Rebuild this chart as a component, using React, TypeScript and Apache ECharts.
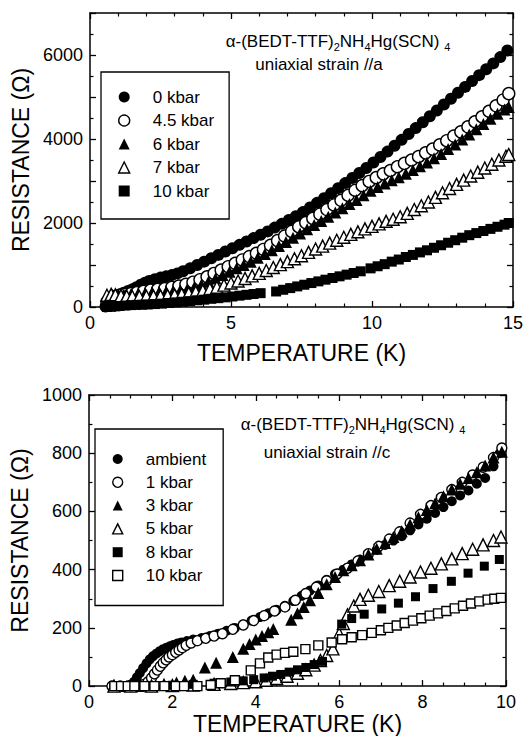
import React, { useEffect, useRef } from "react";
import * as echarts from "echarts";

// ---------- Top panel: uniaxial strain //a ----------
const topLegendNames = ["0 kbar", "4.5 kbar", "6 kbar", "7 kbar", "10 kbar"];

const topR0: [number, number][] = [
  [0.55, 10], [0.62, 40], [0.7, 90], [0.78, 150], [0.86, 210], [0.95, 260], [1.05, 300], [1.2, 340],
  [1.35, 380], [1.5, 420], [1.65, 470], [1.8, 530], [1.95, 580], [2.1, 620], [2.3, 660], [2.5, 700],
  [2.7, 730], [2.9, 760], [3.1, 800], [3.3, 850], [3.55, 920], [3.8, 1000], [4.05, 1080], [4.3, 1160],
  [4.55, 1240], [4.8, 1320], [5.05, 1400], [5.3, 1480], [5.55, 1560], [5.8, 1640], [6.05, 1720],
  [6.3, 1800], [6.55, 1890], [6.8, 1980], [7.05, 2070], [7.3, 2160], [7.55, 2260], [7.8, 2370],
  [8.05, 2480], [8.3, 2590], [8.55, 2710], [8.8, 2830], [9.05, 2950], [9.3, 3070], [9.55, 3190],
  [9.8, 3310], [10.05, 3440], [10.3, 3570], [10.55, 3700], [10.8, 3840], [11.05, 3980], [11.3, 4120],
  [11.55, 4260], [11.8, 4400], [12.05, 4540], [12.3, 4680], [12.55, 4820], [12.8, 4960], [13.05, 5100],
  [13.3, 5240], [13.55, 5380], [13.8, 5520], [14.05, 5660], [14.3, 5800], [14.55, 5950], [14.8, 6110],
];

const topR45: [number, number][] = [
  [0.6, 120], [0.75, 200], [0.9, 250], [1.05, 280], [1.25, 300], [1.45, 320], [1.65, 340], [1.9, 370],
  [2.15, 400], [2.4, 420], [2.65, 440], [2.9, 470], [3.15, 500], [3.4, 540], [3.65, 590], [3.9, 650],
  [4.15, 720], [4.4, 800], [4.65, 880], [4.9, 960], [5.15, 1040], [5.4, 1120], [5.65, 1200], [5.9, 1280],
  [6.15, 1370], [6.4, 1470], [6.65, 1580], [6.9, 1690], [7.15, 1800], [7.4, 1910], [7.65, 2010],
  [7.9, 2110], [8.15, 2210], [8.4, 2320], [8.65, 2430], [8.9, 2540], [9.15, 2660], [9.4, 2780],
  [9.65, 2890], [9.9, 2990], [10.15, 3080], [10.4, 3170], [10.65, 3250], [10.9, 3340], [11.15, 3420],
  [11.4, 3500], [11.65, 3580], [11.9, 3670], [12.15, 3760], [12.4, 3860], [12.65, 3960], [12.9, 4070],
  [13.15, 4170], [13.4, 4290], [13.65, 4410], [13.9, 4530], [14.15, 4660], [14.4, 4790], [14.65, 4930],
  [14.85, 5080],
];

const topR6: [number, number][] = [
  [0.6, 250], [0.8, 290], [1.0, 300], [1.2, 300], [1.45, 300], [1.7, 310], [1.95, 330], [2.2, 350],
  [2.45, 360], [2.7, 370], [2.95, 380], [3.2, 400], [3.45, 430], [3.7, 470], [3.95, 530], [4.2, 600],
  [4.45, 680], [4.7, 760], [4.95, 840], [5.2, 920], [5.45, 1000], [5.7, 1080], [5.95, 1170], [6.2, 1260],
  [6.45, 1350], [6.7, 1450], [6.95, 1550], [7.2, 1650], [7.45, 1750], [7.7, 1850], [7.95, 1950],
  [8.2, 2050], [8.45, 2150], [8.7, 2250], [8.95, 2350], [9.2, 2450], [9.45, 2550], [9.7, 2660],
  [9.95, 2770], [10.2, 2860], [10.45, 2940], [10.7, 3020], [10.95, 3090], [11.2, 3170], [11.45, 3260],
  [11.7, 3350], [11.95, 3440], [12.2, 3540], [12.45, 3640], [12.7, 3760], [12.95, 3870], [13.2, 3990],
  [13.45, 4110], [13.7, 4230], [13.95, 4360], [14.2, 4480], [14.45, 4600], [14.7, 4700], [14.85, 4760],
];

const topR7: [number, number][] = [
  [0.6, 280], [0.75, 300], [0.9, 290], [1.1, 270], [1.3, 260], [1.5, 250], [1.75, 250], [2.0, 255],
  [2.25, 260], [2.5, 265], [2.75, 275], [3.0, 290], [3.25, 305], [3.5, 330], [3.75, 360], [4.0, 390],
  [4.25, 430], [4.5, 470], [4.75, 520], [5.0, 570], [5.25, 620], [5.5, 680], [5.75, 740], [6.0, 800],
  [6.25, 870], [6.5, 940], [6.75, 1010], [7.0, 1080], [7.25, 1150], [7.5, 1220], [7.75, 1300],
  [8.0, 1380], [8.25, 1450], [8.5, 1520], [8.75, 1590], [9.0, 1660], [9.25, 1730], [9.5, 1790],
  [9.75, 1860], [10.0, 1920], [10.25, 1980], [10.5, 2040], [10.75, 2090], [11.0, 2150], [11.25, 2230],
  [11.5, 2320], [11.75, 2410], [12.0, 2500], [12.25, 2610], [12.5, 2720], [12.75, 2820], [13.0, 2920],
  [13.25, 3020], [13.5, 3120], [13.75, 3210], [14.0, 3310], [14.25, 3400], [14.5, 3500], [14.75, 3590],
  [14.85, 3630],
];

const topR10: [number, number][] = [
  [0.6, 0], [0.75, 5], [0.9, 15], [1.05, 25], [1.25, 35], [1.45, 45], [1.65, 50], [1.85, 55], [2.05, 60],
  [2.3, 70], [2.55, 80], [2.8, 95], [3.05, 110], [3.3, 125], [3.55, 140], [3.8, 160], [4.05, 175],
  [4.3, 195], [4.55, 210], [4.8, 230], [5.05, 250], [5.3, 270], [5.55, 290], [5.8, 310], [6.05, 330],
  [6.6, 370], [6.85, 410], [7.1, 450], [7.35, 490], [7.6, 530], [7.85, 570], [8.1, 610], [8.35, 650],
  [8.6, 690], [8.85, 730], [9.1, 770], [9.35, 810], [9.6, 850], [9.95, 920], [10.2, 970], [10.45, 1020],
  [10.7, 1080], [10.95, 1130], [11.2, 1190], [11.45, 1240], [11.7, 1300], [11.95, 1350], [12.2, 1410],
  [12.45, 1470], [12.7, 1530], [12.95, 1590], [13.2, 1650], [13.45, 1710], [13.7, 1760], [13.95, 1810],
  [14.2, 1860], [14.45, 1910], [14.7, 1960], [14.85, 2000],
];

// ---------- Bottom panel: uniaxial strain //c ----------
const botLegendNames = ["ambient", "1 kbar", "3 kbar", "5 kbar", "8 kbar", "10 kbar"];

const botAmbient: [number, number][] = [
  [0.55, 0], [0.7, 0], [0.85, 0], [1.0, 5], [1.08, 15], [1.15, 30], [1.22, 45], [1.3, 62], [1.38, 78],
  [1.46, 92], [1.54, 103], [1.62, 112], [1.7, 120], [1.78, 127], [1.86, 132], [1.94, 137], [2.02, 141],
  [2.12, 146], [2.22, 150], [2.35, 155], [2.5, 160], [2.7, 165], [2.9, 172], [3.1, 180], [3.3, 190],
  [3.5, 200], [3.7, 212], [3.9, 225], [4.1, 237], [4.3, 250], [4.5, 262], [4.7, 276], [4.9, 292],
  [5.1, 310], [5.3, 328], [5.5, 346], [5.7, 365], [5.9, 385], [6.1, 400], [6.3, 418], [6.5, 435],
  [6.7, 452], [6.9, 468], [7.1, 485], [7.3, 500], [7.5, 515], [7.7, 535], [7.9, 555], [8.1, 575],
  [8.3, 595], [8.5, 615], [8.7, 635], [8.9, 655], [9.1, 672], [9.3, 695], [9.5, 715], [9.7, 755],
  [9.85, 800],
];

const bot1: [number, number][] = [
  [0.55, 0], [0.75, 0], [0.95, 0], [1.15, 0], [1.3, 5], [1.42, 15], [1.5, 28], [1.57, 42], [1.64, 55],
  [1.71, 68], [1.78, 80], [1.85, 90], [1.92, 100], [2.0, 108], [2.08, 116], [2.16, 124], [2.24, 132],
  [2.33, 140], [2.45, 148], [2.6, 156], [2.8, 164], [3.0, 172], [3.2, 180], [3.45, 195], [3.7, 210],
  [3.95, 225], [4.2, 242], [4.45, 258], [4.7, 272], [4.95, 295], [5.2, 318], [5.45, 340], [5.7, 362],
  [5.95, 385], [6.2, 405], [6.45, 430], [6.7, 455], [6.95, 480], [7.2, 505], [7.45, 530], [7.7, 560],
  [7.95, 590], [8.2, 620], [8.45, 648], [8.7, 675], [8.95, 700], [9.2, 725], [9.45, 752], [9.7, 785],
  [9.9, 818],
];

const bot3: [number, number][] = [
  [0.6, 0], [0.9, 0], [1.2, 0], [1.5, 3], [1.8, 8], [2.1, 12], [2.3, 18], [2.5, 22], [2.78, 64],
  [3.05, 80], [3.45, 100], [3.7, 128], [3.85, 145], [4.0, 160], [4.15, 172], [4.3, 185], [4.42, 196],
  [4.85, 228], [5.0, 250], [5.15, 272], [5.3, 295], [5.5, 320], [5.7, 350], [5.9, 375], [6.1, 398],
  [6.3, 415], [6.5, 432], [6.7, 452], [6.9, 472], [7.1, 492], [7.3, 512], [7.5, 532], [7.7, 555],
  [7.9, 580], [8.1, 605], [8.3, 628], [8.5, 652], [8.7, 675], [8.9, 695], [9.1, 715], [9.3, 735],
  [9.5, 758], [9.7, 785], [9.9, 805],
];

const bot5: [number, number][] = [
  [0.6, 0], [1.0, 0], [1.5, 0], [2.0, 2], [2.5, 4], [3.0, 6], [3.4, 9], [3.7, 12], [4.0, 15], [4.25, 20],
  [4.5, 26], [4.75, 34], [5.0, 44], [5.2, 56], [5.4, 72], [5.55, 88], [5.7, 105], [5.85, 128], [6.0, 180],
  [6.1, 215], [6.2, 245], [6.35, 275], [6.5, 298], [6.7, 312], [6.95, 325], [7.2, 345], [7.45, 360],
  [7.7, 375], [7.95, 392], [8.2, 405], [8.45, 420], [8.7, 437], [8.95, 455], [9.2, 470], [9.45, 485],
  [9.7, 500], [9.88, 512],
];

const bot8: [number, number][] = [
  [0.6, 0], [1.0, 0], [1.5, 0], [2.0, 3], [2.5, 6], [3.0, 10], [3.4, 14], [3.7, 18], [3.95, 22], [4.2, 28],
  [4.4, 34], [4.6, 40], [4.8, 48], [5.0, 56], [5.2, 64], [5.4, 74], [5.6, 85], [6.06, 213], [6.3, 232],
  [6.6, 247], [7.02, 265], [7.42, 285], [7.83, 307], [8.25, 335], [8.69, 360], [9.09, 388], [9.48, 412],
  [9.84, 435],
];

const bot10: [number, number][] = [
  [0.61, 0], [0.77, 0], [0.93, 0], [1.09, 0], [1.33, 0], [1.57, 0], [1.81, 0], [2.08, 0], [2.28, 0],
  [2.6, 0], [2.92, 4], [3.16, 10], [3.5, 20], [3.88, 54], [4.1, 78], [4.3, 98], [4.5, 108], [4.7, 114],
  [4.9, 118], [5.19, 127], [5.5, 140], [5.82, 150], [6.07, 161], [6.3, 168], [6.55, 175], [6.78, 183],
  [7.0, 192], [7.18, 200], [7.38, 208], [7.57, 217], [7.77, 225], [7.97, 233], [8.17, 242], [8.37, 250],
  [8.57, 258], [8.77, 267], [8.97, 276], [9.16, 284], [9.36, 291], [9.56, 297], [9.72, 300], [9.88, 303],
];

// Tick settings
const topXTicks = { min: 0, max: 15, interval: 5, minorSplit: 5 };
const topYTicks = { min: 0, max: 7000, interval: 1000, minorSplit: 2 };
const topYLabelStep = 2000;
const botXTicks = { min: 0, max: 10, interval: 2, minorSplit: 4 };
const botYTicks = { min: 0, max: 1000, interval: 200, minorSplit: 2 };

const FONT = '"Liberation Sans", Arial, Helvetica, sans-serif';
const BLACK = "#000";

type Mk = { symbol: string; open: boolean; size: number };
const topMarkers: Mk[] = [
  { symbol: "circle", open: false, size: 12 },
  { symbol: "circle", open: true, size: 12 },
  { symbol: "triangle", open: false, size: 12 },
  { symbol: "triangle", open: true, size: 12 },
  { symbol: "rect", open: false, size: 10 },
];
const botMarkers: Mk[] = [
  { symbol: "circle", open: false, size: 10 },
  { symbol: "circle", open: true, size: 10 },
  { symbol: "triangle", open: false, size: 12 },
  { symbol: "triangle", open: true, size: 12 },
  { symbol: "rect", open: false, size: 9 },
  { symbol: "rect", open: true, size: 9 },
];

function markerStyle(m: Mk) {
  return m.open
    ? { color: "#fff", borderColor: BLACK, borderWidth: 1.4, opacity: 1 }
    : { color: BLACK, borderWidth: 0, opacity: 1 };
}

const plainNum = (v: number) => String(v);

function valueAxis(o: any) {
  const { gridIndex, position, min, max, interval, minorSplit, labels, formatter, name, nameGap } = o;
  return {
    type: "value",
    gridIndex,
    position,
    min,
    max,
    interval,
    axisLine: { show: true, onZero: false, lineStyle: { color: BLACK, width: 1.5 } },
    axisTick: { show: true, inside: true, length: 6, lineStyle: { color: BLACK, width: 1.3 } },
    minorTick: { show: true, splitNumber: minorSplit, length: 3.5, lineStyle: { color: BLACK, width: 1.2 } },
    splitLine: { show: false },
    minorSplitLine: { show: false },
    axisLabel: {
      show: labels,
      color: BLACK,
      fontSize: 18,
      fontFamily: FONT,
      margin: 7,
      formatter: formatter || plainNum,
    },
    name: name || "",
    nameLocation: "middle",
    nameGap: nameGap || 0,
    nameTextStyle: { color: BLACK, fontSize: 23, fontFamily: FONT },
  };
}

export default function App() {
  const ref = useRef<HTMLDivElement>(null);

  useEffect(() => {
    if (!ref.current) return;
    const chart = echarts.init(ref.current, undefined, { renderer: "svg" });

    const topData = [topR0, topR45, topR6, topR7, topR10];
    const botData = [botAmbient, bot1, bot3, bot5, bot8, bot10];

    const series: any[] = [];
    topData.forEach((d, i) => {
      series.push({
        type: "scatter",
        name: topLegendNames[i],
        xAxisIndex: 0,
        yAxisIndex: 0,
        data: d,
        symbol: topMarkers[i].symbol,
        symbolSize: topMarkers[i].size,
        itemStyle: markerStyle(topMarkers[i]),
        silent: true,
        emphasis: { disabled: true },
      });
    });
    botData.forEach((d, i) => {
      series.push({
        type: "scatter",
        name: botLegendNames[i],
        xAxisIndex: 2,
        yAxisIndex: 2,
        data: d,
        symbol: botMarkers[i].symbol,
        symbolSize: botMarkers[i].size,
        itemStyle: markerStyle(botMarkers[i]),
        silent: true,
        emphasis: { disabled: true },
      });
    });

    const legendItems = (names: string[], mks: Mk[]) =>
      names.map((n, i) => ({ name: n, icon: mks[i].symbol, itemStyle: markerStyle(mks[i]) }));

    const titleRich = {
      s: { fontSize: 11, fontFamily: FONT, fill: BLACK, verticalAlign: "bottom", lineHeight: 11 },
    };

    const option: any = {
      animation: false,
      backgroundColor: "#fff",
      grid: [
        { left: 90, top: 13, width: 423, height: 294 },
        { left: 86, top: 395, width: 420, height: 296 },
      ],
      xAxis: [
        valueAxis({ gridIndex: 0, position: "bottom", ...topXTicks, labels: true, name: "TEMPERATURE (K)", nameGap: 34 }),
        valueAxis({ gridIndex: 0, position: "top", ...topXTicks, labels: false }),
        valueAxis({ gridIndex: 1, position: "bottom", ...botXTicks, labels: true, name: "TEMPERATURE (K)", nameGap: 24 }),
        valueAxis({ gridIndex: 1, position: "top", ...botXTicks, labels: false }),
      ],
      yAxis: [
        valueAxis({
          gridIndex: 0,
          position: "left",
          ...topYTicks,
          labels: true,
          formatter: (v: number) => (v % topYLabelStep === 0 && v < topYTicks.max ? String(v) : ""),
          name: "RESISTANCE (\u03A9)",
          nameGap: 54,
        }),
        valueAxis({ gridIndex: 0, position: "right", ...topYTicks, labels: false }),
        valueAxis({ gridIndex: 1, position: "left", ...botYTicks, labels: true, name: "RESISTANCE (\u03A9)", nameGap: 50 }),
        valueAxis({ gridIndex: 1, position: "right", ...botYTicks, labels: false }),
      ],
      legend: [
        {
          data: legendItems(topLegendNames, topMarkers),
          orient: "vertical",
          left: 101,
          top: 72,
          padding: [16, 15, 19, 17],
          itemWidth: 11,
          itemHeight: 11,
          itemGap: 5.5,
          borderColor: BLACK,
          borderWidth: 1.3,
          backgroundColor: "#fff",
          selectedMode: false,
          textStyle: { color: BLACK, fontSize: 17, fontFamily: FONT, lineHeight: 18, padding: [0, 0, 0, 18] },
        },
        {
          data: legendItems(botLegendNames, botMarkers),
          orient: "vertical",
          left: 95,
          top: 429,
          padding: [21, 17, 21, 17],
          itemWidth: 10,
          itemHeight: 10,
          itemGap: 5.3,
          borderColor: BLACK,
          borderWidth: 1.3,
          backgroundColor: "#fff",
          selectedMode: false,
          textStyle: { color: BLACK, fontSize: 17, fontFamily: FONT, lineHeight: 18, padding: [0, 0, 0, 18] },
        },
      ],
      graphic: [
        {
          type: "text",
          x: 338,
          y: 41,
          silent: true,
          style: {
            text: "\u03B1-(BEDT-TTF){s|2}NH{s|4}Hg(SCN) {s|4}",
            fontSize: 17,
            fontFamily: FONT,
            fill: BLACK,
            lineHeight: 22,
            align: "center",
            verticalAlign: "middle",
            rich: titleRich,
          },
        },
        {
          type: "text",
          x: 319,
          y: 64,
          silent: true,
          style: {
            text: "uniaxial strain //a",
            fontSize: 17,
            fontFamily: FONT,
            fill: BLACK,
            align: "center",
            verticalAlign: "middle",
          },
        },
        {
          type: "text",
          x: 353,
          y: 424,
          silent: true,
          style: {
            text: "\u03B1-(BEDT-TTF){s|2}NH{s|4}Hg(SCN) {s|4}",
            fontSize: 17,
            fontFamily: FONT,
            fill: BLACK,
            lineHeight: 22,
            align: "center",
            verticalAlign: "middle",
            rich: titleRich,
          },
        },
        {
          type: "text",
          x: 327,
          y: 452,
          silent: true,
          style: {
            text: "uniaxial strain //c",
            fontSize: 17,
            fontFamily: FONT,
            fill: BLACK,
            align: "center",
            verticalAlign: "middle",
          },
        },
      ],
      series,
    };

    chart.setOption(option);
    return () => chart.dispose();
  }, []);

  return (
    <div
      ref={ref}
      style={{ position: "fixed", left: 0, top: 0, width: 526, height: 736, background: "#fff" }}
    />
  );
}
